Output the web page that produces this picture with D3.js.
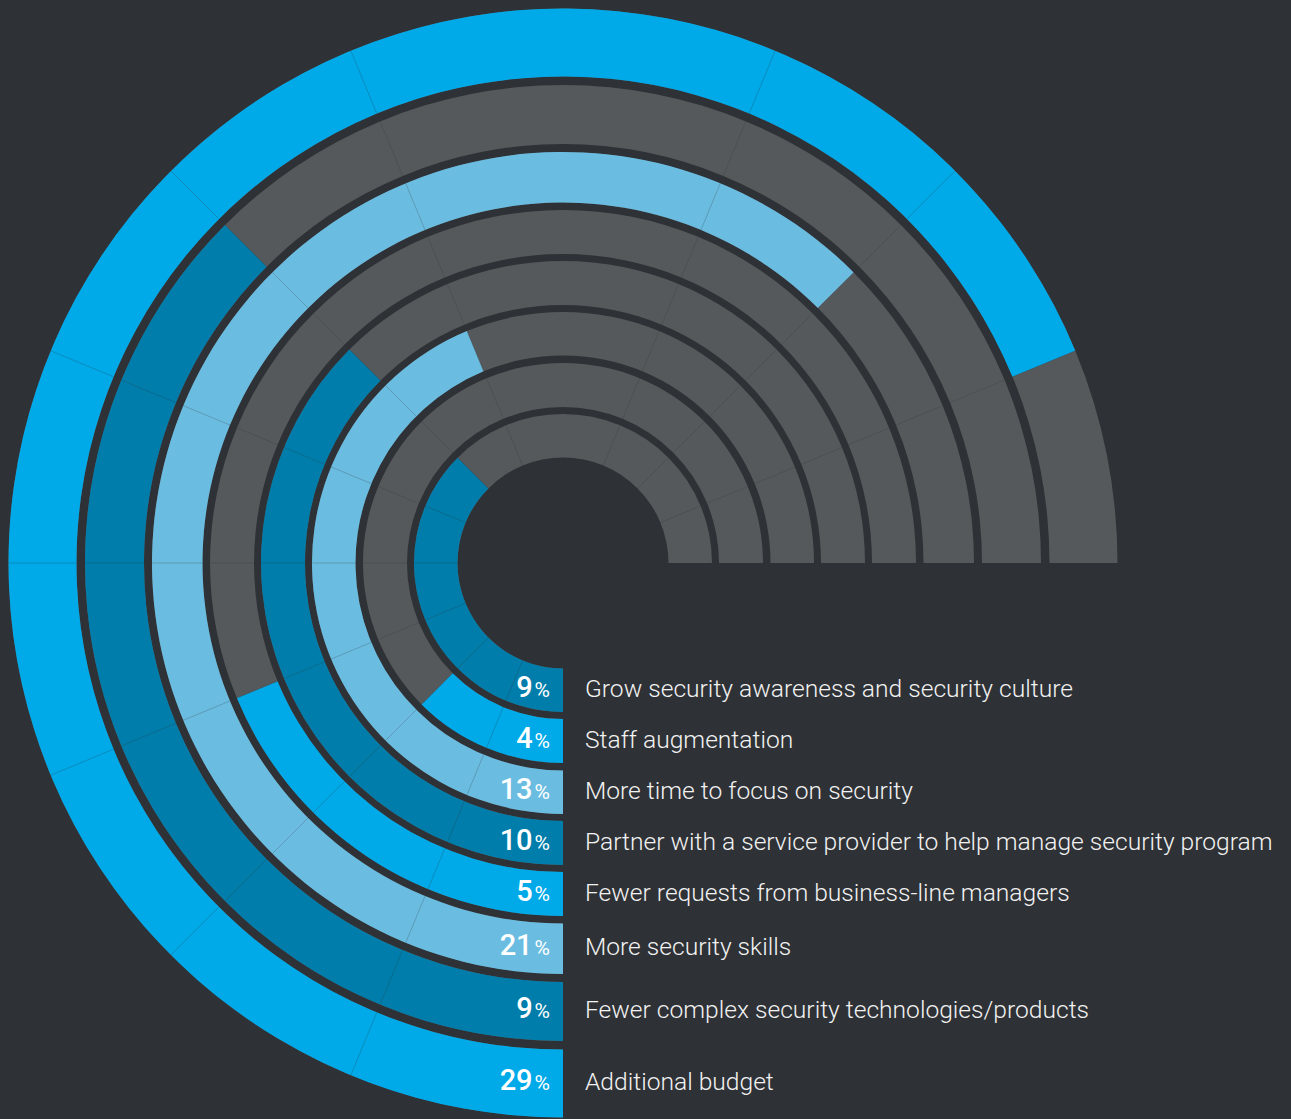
<!DOCTYPE html>
<html>
<head>
<meta charset="utf-8">
<script src="https://cdn.jsdelivr.net/npm/d3@7/dist/d3.min.js"></script>
<style>
  html, body { margin: 0; padding: 0; background: #2e3135; }
  svg { display: block; }
</style>
</head>
<body>
<svg id="chart" width="1291" height="1119"></svg>
<script>
// Survey answers, listed from the innermost ring to the outermost ring
const categories = [
  "Grow security awareness and security culture",
  "Staff augmentation",
  "More time to focus on security",
  "Partner with a service provider to help manage security program",
  "Fewer requests from business-line managers",
  "More security skills",
  "Fewer complex security technologies/products",
  "Additional budget"
];
const values = [9, 4, 13, 10, 5, 21, 9, 29];

// ---- layout & style ----
const W = 1291, H = 1119;
const cx = 563, cy = 563;
const BG = "#2e3135";
const TRACK = "#56595c";
const PALETTE = ["#007dab", "#00a9e8", "#6abce0"]; // dark, bright, light — repeating outward

// inner/outer edge of each ring (px from the centre)
const RING_EDGES = [
  [105.5, 149], [156, 200], [207.5, 251], [258, 302],
  [309, 353], [360.5, 411], [419, 478], [486.5, 554.5]
];

// The track is a 270° sweep built from 12 equal sectors, running clockwise
// from six o'clock round to three o'clock.
const SECTORS = 12;
const angle = d3.scaleLinear().domain([0, SECTORS]).range([Math.PI, 2.5 * Math.PI]);
// Share of respondents -> number of filled sectors
const sectorScale = d3.scaleThreshold()
  .domain([4.5, 7, 11, 17, 25])
  .range([2, 3, 6, 7, 10, 11]);

const svg = d3.select("#chart");
svg.append("rect").attr("width", W).attr("height", H).attr("fill", BG);

const g = svg.append("g").attr("transform", `translate(${cx},${cy})`);

const rows = categories.map((c, i) => ({
  label: c,
  value: values[i],
  r0: RING_EDGES[i][0],
  r1: RING_EDGES[i][1],
  color: PALETTE[i % PALETTE.length]
}));

const arc = d3.arc();

// grey tracks
g.selectAll("path.track").data(rows).join("path")
  .attr("class", "track")
  .attr("fill", TRACK)
  .attr("d", d => arc({ innerRadius: d.r0, outerRadius: d.r1,
                        startAngle: angle(0), endAngle: angle(SECTORS) }));

// filled bars
g.selectAll("path.bar").data(rows).join("path")
  .attr("class", "bar")
  .attr("fill", d => d.color)
  .attr("d", d => arc({ innerRadius: d.r0, outerRadius: d.r1,
                        startAngle: angle(0), endAngle: angle(sectorScale(d.value)) }));

// faint seams between sectors
const seams = [];
rows.forEach(d => {
  d3.range(1, SECTORS).forEach(k => {
    if (k === 8) return;
    seams.push({ r0: d.r0, r1: d.r1, a: angle(k) });
  });
});
g.selectAll("line.seam").data(seams).join("line")
  .attr("class", "seam")
  .attr("x1", d => d.r0 * Math.sin(d.a))
  .attr("y1", d => -d.r0 * Math.cos(d.a))
  .attr("x2", d => d.r1 * Math.sin(d.a))
  .attr("y2", d => -d.r1 * Math.cos(d.a))
  .attr("stroke", "#2e3135")
  .attr("stroke-opacity", 0.3)
  .attr("stroke-width", 0.8);

// value labels at the start of each bar, category labels beside them
const labels = svg.append("g");
rows.forEach(d => {
  const yBase = cy + (d.r0 + d.r1) / 2 + 6.5;
  const t = labels.append("text")
    .attr("x", 550).attr("y", yBase)
    .attr("text-anchor", "end")
    .attr("fill", "#ffffff")
    .attr("font-family", "Roboto, 'Noto Sans', sans-serif");
  t.append("tspan").attr("font-size", 29).attr("font-weight", 500).text(d.value);
  t.append("tspan").attr("font-size", 21).attr("font-weight", 400).attr("dx", 2).text("%");

  labels.append("text")
    .attr("x", 585).attr("y", yBase)
    .attr("fill", "#f2f2f2")
    .attr("font-family", "Roboto, 'Noto Sans', sans-serif")
    .attr("font-weight", 300)
    .attr("font-size", 24.6)
    .text(d.label);
});
</script>
</body>
</html>
